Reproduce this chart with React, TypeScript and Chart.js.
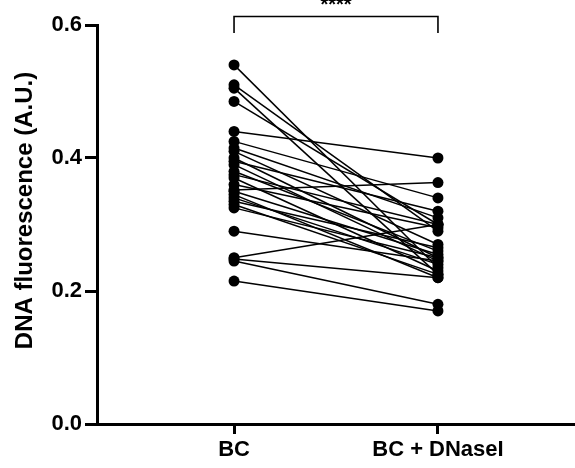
import React, { useEffect, useRef } from "react";
import { Chart, registerables } from "chart.js";

Chart.register(...registerables);

const categories = ["BC", "BC + DNaseI"];
const bcValues = [0.540, 0.510, 0.505, 0.485, 0.440, 0.425, 0.415, 0.410, 0.400, 0.395, 0.390, 0.380, 0.375, 0.370, 0.360, 0.352, 0.350, 0.345, 0.340, 0.335, 0.330, 0.325, 0.290, 0.250, 0.248, 0.245, 0.215];
const dnaseValues = [0.235, 0.290, 0.225, 0.300, 0.400, 0.340, 0.310, 0.270, 0.250, 0.320, 0.245, 0.260, 0.300, 0.230, 0.295, 0.363, 0.255, 0.220, 0.240, 0.265, 0.225, 0.250, 0.245, 0.300, 0.220, 0.180, 0.170];
const yTicks = [0, 0.2, 0.4, 0.6];
const yTitle = "DNA fluorescence (A.U.)";
const sigLabel = "****";

const FONT = "'Liberation Sans', Arial, sans-serif";

export default function App() {
  const ref = useRef<HTMLCanvasElement | null>(null);
  useEffect(() => {
    document.body.style.margin = "0";
    const datasets = bcValues.map((v, i) => ({
      data: [
        { x: 0, y: v },
        { x: 1, y: dnaseValues[i] },
      ],
      borderColor: "#000",
      backgroundColor: "#000",
      borderWidth: 1.5,
      pointRadius: 5.5,
      pointBackgroundColor: "#000",
      pointBorderWidth: 0,
      showLine: true,
      clip: false,
    }));
    const overlay = {
      id: "overlay",
      afterDraw(chart: any) {
        const { ctx, scales, chartArea } = chart;
        const x0 = scales.x.getPixelForValue(0);
        const x1 = scales.x.getPixelForValue(1);
        const yTop = 16.5;
        const yBot = 33;
        ctx.save();
        ctx.strokeStyle = "#000";
        ctx.lineWidth = 1.6;
        ctx.beginPath();
        ctx.moveTo(x0, yBot);
        ctx.lineTo(x0, yTop);
        ctx.lineTo(x1, yTop);
        ctx.lineTo(x1, yBot);
        ctx.stroke();
        ctx.fillStyle = "#000";
        ctx.font = `bold 20px ${FONT}`;
        ctx.textAlign = "center";
        ctx.textBaseline = "alphabetic";
        ctx.fillText(sigLabel, (x0 + x1) / 2, 11);
        // y-axis title
        ctx.translate(25, (chartArea.top + chartArea.bottom) / 2 - 14);
        ctx.rotate(-Math.PI / 2);
        ctx.font = `bold 24px ${FONT}`;
        ctx.textBaseline = "middle";
        ctx.fillText(yTitle, 0, 0);
        ctx.restore();
      },
    };
    const chart = new Chart(ref.current!, {
      type: "scatter",
      data: { datasets },
      plugins: [overlay],
      options: {
        animation: false,
        responsive: false,
        maintainAspectRatio: false,
        layout: { autoPadding: false, padding: { top: 25, right: 0, left: 0, bottom: 0 } },
        plugins: { legend: { display: false }, tooltip: { enabled: false } },
        scales: {
          x: {
            type: "linear",
            min: -0.672,
            max: 1.672,
            afterBuildTicks: (axis: any) => {
              axis.ticks = [{ value: 0 }, { value: 1 }];
            },
            afterFit: (axis: any) => {
              axis.height = 44;
              axis.paddingLeft = 0;
              axis.paddingRight = 0;
            },
            ticks: {
              callback: (v: any) => categories[Math.round(Number(v))] ?? "",
              color: "#000",
              font: { family: FONT, size: 22, weight: "bold" },
              padding: 3,
              maxRotation: 0,
              autoSkip: false,
            },
            grid: { drawOnChartArea: false, drawTicks: true, tickLength: 10, tickWidth: 3, color: "#000" },
            border: { display: true, color: "#000", width: 3 },
          },
          y: {
            min: 0,
            max: 0.6,
            afterBuildTicks: (axis: any) => {
              axis.ticks = yTicks.map((v) => ({ value: v }));
            },
            afterFit: (axis: any) => {
              axis.width = 97;
              axis.paddingTop = 0;
              axis.paddingBottom = 0;
            },
            ticks: {
              callback: (v: any) => Number(v).toFixed(1),
              color: "#000",
              font: { family: FONT, size: 22, weight: "bold" },
              padding: 3,
            },
            title: { display: false },
            grid: { drawOnChartArea: false, drawTicks: true, tickLength: 12, tickWidth: 3, color: "#000" },
            border: { display: true, color: "#000", width: 3 },
          },
        },
      },
    } as any);
    return () => chart.destroy();
  }, []);
  return (
    <div style={{ width: 575, height: 468 }}>
      <canvas ref={ref} width={575} height={468} style={{ display: "block" }} />
    </div>
  );
}
